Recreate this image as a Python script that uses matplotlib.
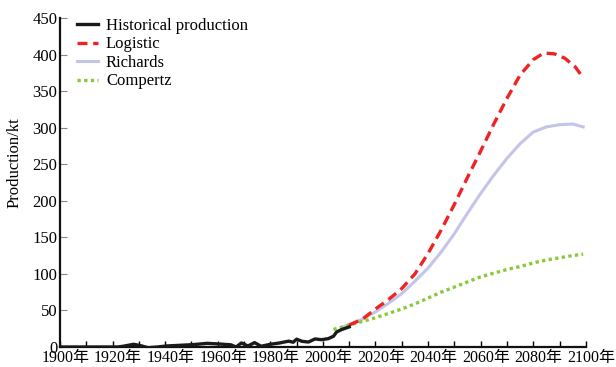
import numpy as np
import matplotlib
matplotlib.use("Agg")
import matplotlib.pyplot as plt
from matplotlib.ticker import MultipleLocator
from matplotlib.transforms import ScaledTranslation

plt.rcParams['font.family'] = ['Liberation Serif', 'Noto Sans CJK SC']
plt.rcParams['font.size'] = 12

# historical production, kt
hist_year = [1900, 1922, 1924, 1928, 1930.5, 1933.5, 1937, 1940.5, 1945, 1950.5,
             1956, 1961, 1965, 1967, 1969, 1971.5, 1974, 1976.5, 1980, 1983.5,
             1987, 1988.7, 1990, 1992, 1994.5, 1997, 1999.5, 2002, 2004, 2005.2,
             2007, 2010]
hist_prod = [0, 0, 1, 3.7, 2, -1, 0, 1.4, 2.2, 3.2,
             5, 4, 3, 0, 5.5, 1.4, 6, 1, 3.7, 5.5,
             8, 6.5, 10.7, 7.8, 6.8, 11, 10, 11.4, 14.6, 20.5,
             23.7, 27.5]

# model forecasts
logistic_year = [2010, 2015, 2020, 2025, 2030, 2035, 2040, 2045, 2050, 2055, 2060,
                 2065, 2070, 2075, 2080, 2084, 2088, 2092, 2096, 2099]
logistic_prod = [30, 38, 52, 65, 80, 100, 128, 160, 195, 232, 268,
                 305, 340, 372, 393, 402, 401, 395, 383, 368]

richards_year = [2008, 2015, 2020, 2025, 2030, 2035, 2040, 2045, 2050, 2055, 2060,
                 2065, 2070, 2075, 2080, 2085, 2090, 2095, 2099]
richards_prod = [28, 38, 48, 60, 73, 90, 108, 130, 155, 183, 210,
                 235, 258, 278, 294, 301, 304, 305, 301]

compertz_year = [2004, 2010, 2015, 2020, 2025, 2030, 2035, 2040, 2045, 2050, 2055,
                 2060, 2065, 2070, 2075, 2080, 2085, 2090, 2095, 2099]
compertz_prod = [24, 30, 35, 40, 46, 52, 59, 67, 75, 82, 89,
                 96, 101, 106, 110, 115, 119, 122, 125, 127]

x_ticks = list(range(1900, 2101, 20))
x_labels = [f'{y}年' for y in x_ticks]

fig = plt.figure(figsize=(6.16, 3.67), dpi=100)
ax = fig.add_axes([0.0974, 0.0545, 0.8536, 0.8965])

ax.plot(richards_year, richards_prod, color='#c4c4ea', lw=2.2, label='Richards', zorder=2)
ax.plot(compertz_year, compertz_prod, color='#8cc83c', lw=2.4, ls=(0, (1, 1)),
        label='Compertz', zorder=3)
ax.plot(logistic_year, logistic_prod, color='#ee2424', lw=2.4, ls=(0, (3, 1.7)),
        label='Logistic', zorder=4)
ax.plot(hist_year, hist_prod, color='#1a1a1a', lw=2.4, label='Historical production',
        zorder=5)

ax.set_xlim(1900, 2100)
ax.set_ylim(0, 450)
ax.set_xticks(x_ticks)
ax.set_xticklabels([])
ax.xaxis.set_minor_locator(MultipleLocator(10))
ax.yaxis.set_major_locator(MultipleLocator(50))

# year labels: digits roughly centred on the tick, the 年 hangs to the right
shift = ScaledTranslation(5.5 / 100, -3 / 100, fig.dpi_scale_trans)
for x, lab in zip(x_ticks, x_labels):
    ax.text(x, 0, lab, transform=ax.get_xaxis_transform() + shift,
            ha='center', va='top', fontsize=11.5, clip_on=False)

for side in ['top', 'right']:
    ax.spines[side].set_visible(False)
for side in ['left', 'bottom']:
    ax.spines[side].set_linewidth(1.6)
    ax.spines[side].set_color('#111111')

ax.tick_params(axis='x', which='both', direction='in', length=4, width=1, pad=2)
ax.tick_params(axis='y', direction='in', length=5, width=0.8, color='#888888', pad=2)

ax.set_ylabel('Production/kt')
ax.yaxis.set_label_coords(-0.072, 0.56)

handles, labels = ax.get_legend_handles_labels()
order = [3, 2, 0, 1]
ax.legend([handles[i] for i in order], [labels[i] for i in order],
          loc='upper left', bbox_to_anchor=(0.032, 1.0), frameon=False,
          borderpad=0, borderaxespad=0, handlelength=1.3, handletextpad=0.45,
          labelspacing=0.15)

fig.savefig('out.png', dpi=100)
